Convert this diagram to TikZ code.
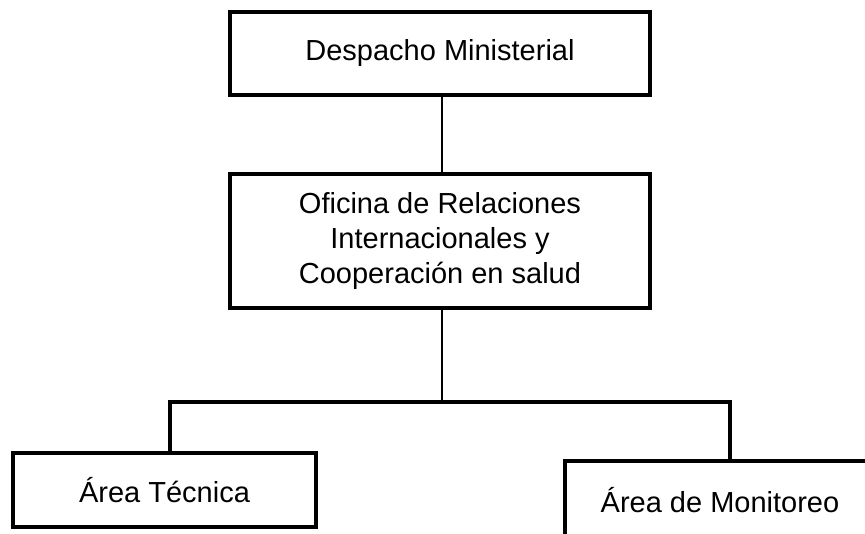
\documentclass[tikz,border=0pt]{standalone}
\usepackage{fontspec}
\setmainfont{Liberation Sans}
\begin{document}
\begin{tikzpicture}[x=1pt,y=-1pt,
  box/.style={draw=black, line width=4pt, fill=white, align=center,
    font=\fontsize{29}{35}\selectfont, inner sep=0pt, outer sep=0pt},
  thin/.style={draw=black, line width=1.6pt},
  thick/.style={draw=black, line width=3.6pt}]
\useasboundingbox (0,0) rectangle (865,534);
\begin{scope}
\clip (0,0) rectangle (865,534);
\node[box, minimum width=420pt, minimum height=83pt] (top) at (440,53.5) {Despacho Ministerial};
\node[box, minimum width=420pt, minimum height=134pt] (mid) at (440,241) {Oficina de Relaciones\\Internacionales y\\Cooperación en salud};
\node[box, line width=3.6pt, minimum width=303pt, minimum height=74pt] (left) at (164.5,490) {Área Técnica};
\node[box, line width=3.6pt, minimum width=310pt, minimum height=78pt] (right) at (720,500) {Área de Monitoreo};
\coordinate (bus) at (442,402);
\draw[thin] (top.south -| bus) -- (mid.north -| bus);
\draw[thin] (mid.south -| bus) -- (bus);
\draw[thick] (left.north -| 170,0) |- (bus) -| (right.north -| 730,0);
\end{scope}
\end{tikzpicture}
\end{document}
